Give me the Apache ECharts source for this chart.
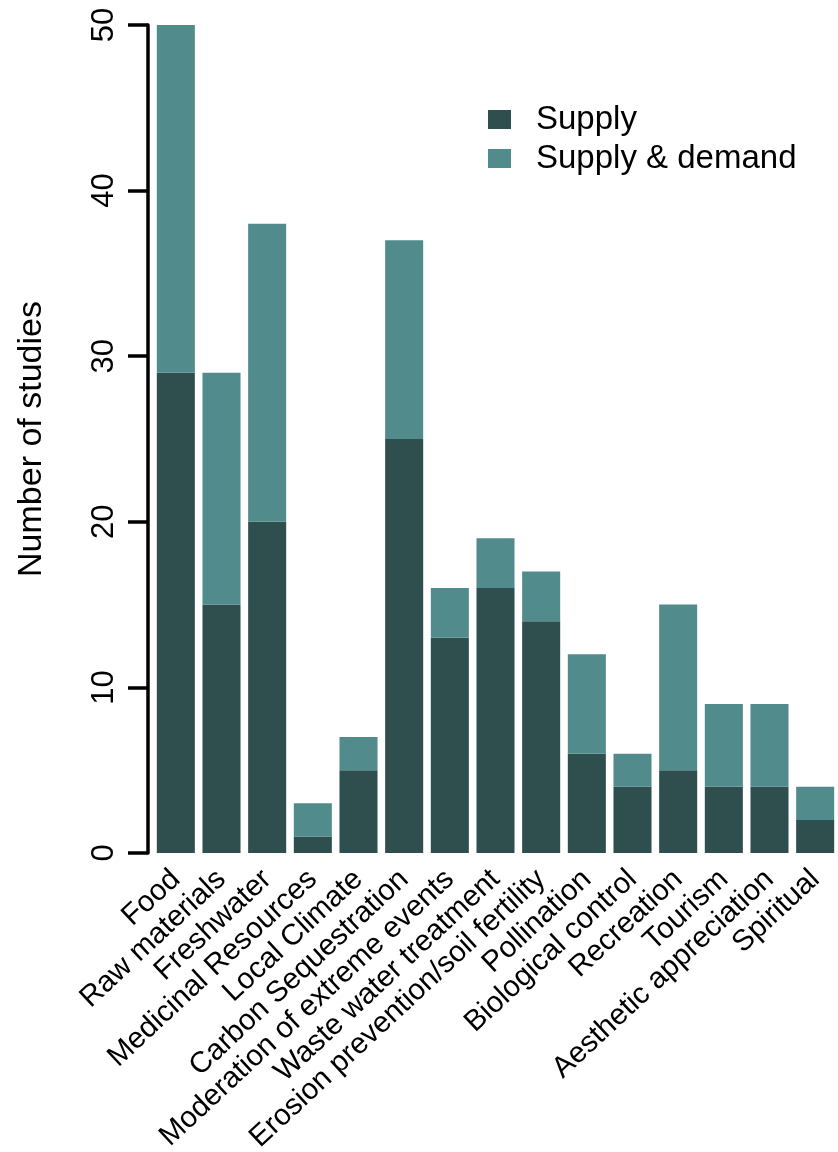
<!DOCTYPE html>
<html>
<head>
<meta charset="utf-8">
<script src="https://cdn.jsdelivr.net/npm/echarts@6/dist/echarts.min.js"></script>
<style>
html,body{margin:0;padding:0;background:#fff;}
#chart{width:838px;height:1152px;}
</style>
</head>
<body>
<div id="chart"></div>
<script>
var categories = ["Food","Raw materials","Freshwater","Medicinal Resources","Local Climate","Carbon Sequestration","Moderation of extreme events","Waste water treatment","Erosion prevention/soil fertility","Pollination","Biological control","Recreation","Tourism","Aesthetic appreciation","Spiritual"];
var supply = [29,15,20,1,5,25,13,16,14,6,4,5,4,4,2];
var supplyDemand = [21,14,18,2,2,12,3,3,3,6,2,10,5,5,2];
var yTicks = {min:0, max:50, interval:10};

var FONT = "'Liberation Sans', Arial, Helvetica, sans-serif";
var chart = echarts.init(document.getElementById('chart'), null, {renderer:'canvas'});
chart.setOption({
  animation:false,
  backgroundColor:'#ffffff',
  textStyle:{fontFamily:FONT},
  legend:{
    orient:'vertical', left:483, top:98,
    itemWidth:23, itemHeight:19, itemGap:6,
    icon:'rect',
    textStyle:{fontSize:33, color:'#000', fontFamily:FONT, lineHeight:33, padding:[0,0,0,20]},
    data:['Supply','Supply & demand']
  },
  grid:{left:153, right:0, top:25, bottom:299, containLabel:false, outerBoundsMode:'none'},
  xAxis:{
    type:'category', data:categories,
    axisLine:{show:false}, axisTick:{show:false},
    axisLabel:{interval:0, rotate:43, fontSize:29.5, color:'#000', margin:22, padding:[10,0,0,0], fontFamily:FONT}
  },
  yAxis:{
    type:'value', min:yTicks.min, max:yTicks.max, interval:yTicks.interval,
    offset:5,
    name:'Number of studies', nameLocation:'middle', nameRotate:90, nameGap:99,
    nameTextStyle:{fontSize:34, color:'#000', fontFamily:FONT},
    axisLine:{show:true, lineStyle:{color:'#000', width:3.5}},
    axisTick:{show:true, length:20, lineStyle:{color:'#000', width:3.5}},
    axisLabel:{rotate:90, fontSize:31, color:'#000', margin:28, fontFamily:FONT},
    splitLine:{show:false}
  },
  series:[
    {name:'Supply', type:'bar', stack:'s', data:supply, barCategoryGap:'16.7%',
     itemStyle:{color:'#2F4F4F'}},
    {name:'Supply & demand', type:'bar', stack:'s', data:supplyDemand, barCategoryGap:'16.7%',
     itemStyle:{color:'#528B8B'}}
  ]
});
</script>
</body>
</html>
